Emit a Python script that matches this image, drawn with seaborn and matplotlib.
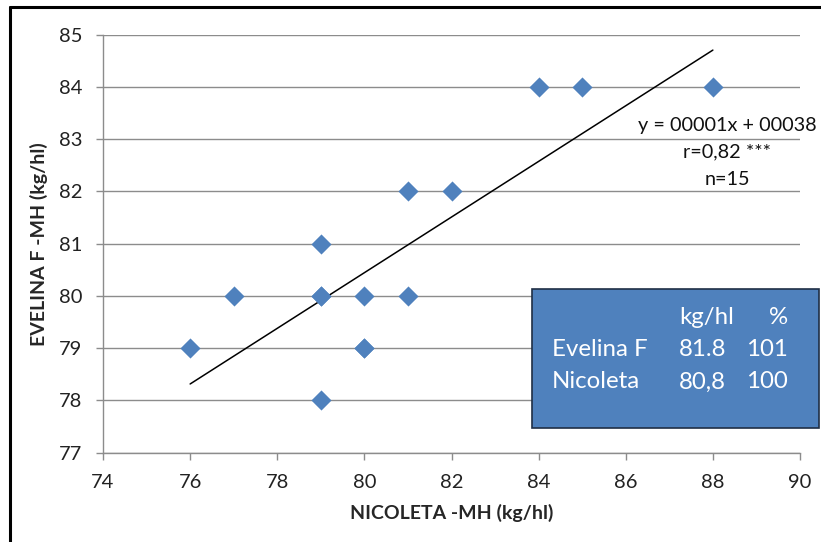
import pandas as pd
import seaborn as sns
import matplotlib.pyplot as plt
from matplotlib.lines import Line2D
from matplotlib.patches import Rectangle

sns.set_style("white")
plt.rcParams["font.family"] = ["Lato", "DejaVu Sans"]

# Nicoleta (x) vs Evelina F (y), hectolitre mass, kg/hl
nicoleta = [76, 77, 79, 79, 79, 80, 80, 81, 81, 82, 84, 85, 88, 80, 79]
evelina = [79, 80, 81, 80, 78, 80, 79, 82, 80, 82, 84, 84, 84, 79, 80]

eq_text = "y = 00001x + 00038"
r_text = "r=0,82 ***"
n_text = "n=15"

tbl_header = ["", "kg/hl", "%"]
tbl_rows = [["Evelina F", "81.8", "101"],
            ["Nicoleta", "80,8", "100"]]

df = pd.DataFrame({"x": nicoleta, "y": evelina})

fig = plt.figure(figsize=(8.21, 5.42), dpi=100)
ax = fig.add_axes([0.1255, 0.1648, 0.8489, 0.7712])

grid_c = "#8c8c8c"
blue = "#4f81bd"

sns.regplot(data=df, x="x", y="y", ci=None, scatter=False, ax=ax,
            line_kws={"color": "black", "lw": 1.1})
ax.scatter(df["x"], df["y"], marker="D", s=105, color=blue, zorder=3,
           linewidths=0)

ax.set_xlim(74, 90)
ax.set_ylim(77, 85)
ax.set_xticks(range(74, 91, 2))
ax.set_yticks(range(77, 86))
ax.yaxis.grid(True, color=grid_c, lw=1)
ax.xaxis.grid(False)
for s in ["top", "right"]:
    ax.spines[s].set_visible(False)
for s in ["left", "bottom"]:
    ax.spines[s].set_color(grid_c)
    ax.spines[s].set_linewidth(1)
ax.tick_params(axis="both", which="major", length=5, width=1, color=grid_c,
               labelsize=14.5, labelcolor="#222222", direction="out",
               left=True, bottom=True)
ax.tick_params(axis="x", pad=10)
ax.tick_params(axis="y", pad=10)

ax.set_xlabel("NICOLETA -MH (kg/hl)", fontsize=14, fontweight="bold",
              labelpad=10)
ax.set_ylabel("EVELINA F -MH (kg/hl)", fontsize=14, fontweight="bold",
              labelpad=8)

# regression annotation
for i, t in enumerate([eq_text, r_text, n_text]):
    fig.text(727 / 821, 1 - (125 + i * 27) / 542, t, ha="center",
             va="center", fontsize=14.3, color="#111111")

# summary box
box = Rectangle((532 / 821, 1 - 428 / 542), 287 / 821, 139 / 542,
                transform=fig.transFigure, facecolor=blue,
                edgecolor="#1f2f45", lw=1.2, zorder=5)
fig.add_artist(box)
col_x = [(552, "left"), (679, "left"), (788, "right")]
for r, row in enumerate([tbl_header] + tbl_rows):
    yy = 1 - (318 + r * 32) / 542
    for (cx, ha), t in zip(col_x, row):
        fig.text(cx / 821, yy, t, ha=ha, va="center", fontsize=17.3,
                 color="white", zorder=6)

# outer frame (left and top edges visible)
fig.add_artist(Line2D([10 / 821, 10 / 821], [0, 1 - 7 / 542],
                      transform=fig.transFigure, color="black", lw=2.2))
fig.add_artist(Line2D([10 / 821, 1], [1 - 7 / 542, 1 - 7 / 542],
                      transform=fig.transFigure, color="black", lw=2.2))

fig.savefig("out.png", dpi=100)
